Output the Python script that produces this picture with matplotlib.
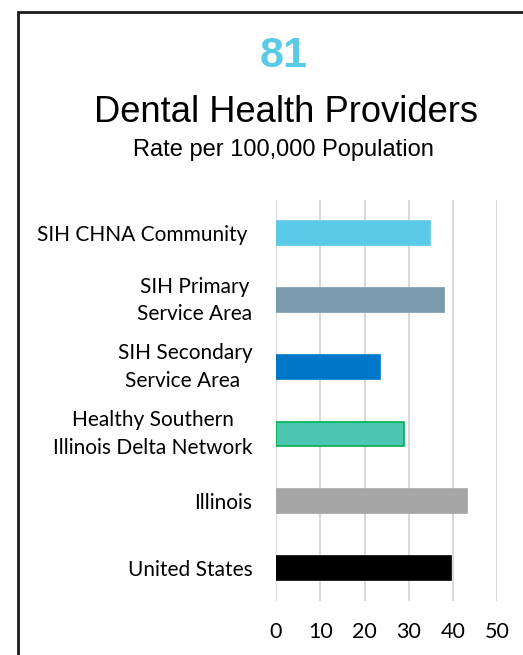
import matplotlib
import matplotlib.pyplot as plt
from matplotlib.patches import Rectangle

# Data
categories = [
    "SIH CHNA Community ",
    "SIH Primary\nService Area",
    "SIH Secondary\nService Area ",
    "Healthy Southern\nIllinois Delta Network",
    "Illinois",
    "United States",
]
rates = [34.8, 37.9, 23.5, 28.9, 43.1, 39.5]
bar_colors = ["#5BC9E8", "#7A9AAE", "#0077C8", "#4BC6B0", "#A6A6A6", "#000000"]
edge_colors = ["#5BC9E8", "#7A9AAE", "#0077C8", "#00B050", "#A6A6A6", "#000000"]
x_ticks = [0, 10, 20, 30, 40, 50]

fig = plt.figure(figsize=(5.23, 6.55), dpi=100)

# Frame around the chart (right and bottom edges fall outside the image)
fig.patches.append(Rectangle((17.5 / 523, -0.1), 1.2, 1 - 11.5 / 655 + 0.1,
                             transform=fig.transFigure, fill=False,
                             edgecolor="#1a1a1a", linewidth=2))

ax = fig.add_axes([276 / 523, 1 - 601 / 655, (497.3 - 276) / 523, (601 - 200) / 655])

pos = list(range(len(categories)))
ax.barh(pos, rates, height=0.36, color=bar_colors, edgecolor=edge_colors, linewidth=1.2,
        zorder=3)
ax.set_ylim(len(categories) - 0.5, -0.5)
ax.set_xlim(0, 50)
ax.set_xticks(x_ticks)
ax.set_yticks(pos)
ax.set_yticklabels(categories, fontfamily="Lato", fontsize=15, linespacing=1.45)
for lbl in ax.get_yticklabels():
    lbl.set_ha("right")
    lbl.set_multialignment("center")
    if "\n" in lbl.get_text():
        lbl.set_va("center")
ax.tick_params(axis="y", length=0, pad=17)
ax.tick_params(axis="x", length=0, pad=15)
for lbl in ax.get_xticklabels():
    lbl.set_fontfamily("Lato")
    lbl.set_fontsize(15.5)

ax.grid(axis="x", color="#D9D9D9", linewidth=1.5, zorder=0)
for s in ax.spines.values():
    s.set_visible(False)

# Titles
fig.text(284 / 523, 1 - 67 / 655, "81", ha="center", va="baseline", color="#5BC9E8",
         fontsize=31, fontweight="bold", fontfamily="Liberation Sans")
fig.text(286 / 523, 1 - 121.5 / 655, "Dental Health Providers", ha="center",
         va="baseline", color="black", fontsize=26.2, fontfamily="Liberation Sans")
fig.text(283 / 523, 1 - 156 / 655, "Rate per 100,000 Population", ha="center",
         va="baseline", color="black", fontsize=17, fontfamily="Liberation Sans")

fig.savefig("out.png", dpi=100)
